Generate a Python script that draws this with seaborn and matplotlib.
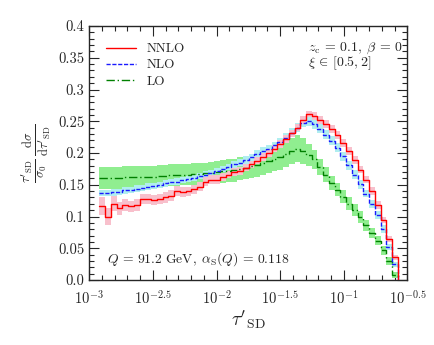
import numpy as np
import pandas as pd
import matplotlib
matplotlib.use("Agg")
import matplotlib.pyplot as plt
import seaborn as sns
from matplotlib.ticker import MultipleLocator

# bins in log10(tau'_SD)
log_tau_edges = np.linspace(-2.92, -0.575, 53)

nnlo = [0.116, 0.100, 0.120, 0.113, 0.118, 0.116, 0.118, 0.128, 0.127, 0.126,
        0.127, 0.130, 0.133, 0.140, 0.138, 0.140, 0.143, 0.147, 0.155, 0.158,
        0.158, 0.162, 0.166, 0.170, 0.172, 0.177, 0.182, 0.188, 0.194, 0.200,
        0.207, 0.214, 0.222, 0.231, 0.240, 0.252, 0.261, 0.258, 0.252, 0.246,
        0.238, 0.228, 0.216, 0.203, 0.189, 0.174, 0.158, 0.140, 0.118, 0.094,
        0.065, 0.036]
nnlo_err = [0.014, 0.014, 0.012, 0.010, 0.010, 0.009, 0.009, 0.008, 0.008, 0.008,
            0.008, 0.008, 0.008, 0.008, 0.008, 0.007, 0.007, 0.007, 0.007, 0.007,
            0.007, 0.006, 0.006, 0.006, 0.006, 0.006, 0.006, 0.006, 0.006, 0.006,
            0.006, 0.006, 0.006, 0.006, 0.006, 0.006, 0.005, 0.006, 0.006, 0.006,
            0.006, 0.006, 0.006, 0.006, 0.006, 0.006, 0.006, 0.006, 0.006, 0.005,
            0.005, 0.004]

nlo = [0.137, 0.137, 0.138, 0.139, 0.141, 0.142, 0.144, 0.145, 0.147, 0.148,
       0.150, 0.152, 0.154, 0.155, 0.157, 0.159, 0.161, 0.164, 0.166, 0.169,
       0.172, 0.175, 0.178, 0.182, 0.185, 0.189, 0.193, 0.198, 0.203, 0.207,
       0.212, 0.218, 0.224, 0.232, 0.240, 0.248, 0.250, 0.245, 0.238, 0.229,
       0.219, 0.208, 0.195, 0.181, 0.166, 0.151, 0.136, 0.120, 0.102, 0.080,
       0.052, 0.025]
nlo_err = [0.005, 0.005, 0.005, 0.005, 0.005, 0.005, 0.005, 0.005, 0.005, 0.005,
           0.005, 0.005, 0.005, 0.005, 0.005, 0.005, 0.005, 0.005, 0.005, 0.005,
           0.005, 0.005, 0.005, 0.005, 0.005, 0.006, 0.006, 0.006, 0.006, 0.006,
           0.006, 0.006, 0.007, 0.007, 0.007, 0.007, 0.007, 0.007, 0.007, 0.007,
           0.007, 0.007, 0.007, 0.007, 0.007, 0.007, 0.006, 0.006, 0.006, 0.006,
           0.005, 0.004]

lo = [0.161, 0.161, 0.161, 0.161, 0.162, 0.162, 0.162, 0.163, 0.163, 0.163,
      0.164, 0.164, 0.165, 0.165, 0.166, 0.166, 0.167, 0.167, 0.168, 0.169,
      0.170, 0.171, 0.172, 0.173, 0.175, 0.177, 0.179, 0.181, 0.184, 0.187,
      0.190, 0.194, 0.198, 0.203, 0.207, 0.203, 0.197, 0.190, 0.178, 0.166,
      0.153, 0.142, 0.131, 0.120, 0.110, 0.099, 0.086, 0.074, 0.062, 0.047,
      0.030, 0.008]
lo_err = [0.017, 0.017, 0.017, 0.017, 0.017, 0.017, 0.017, 0.017, 0.017, 0.017,
          0.017, 0.017, 0.017, 0.017, 0.017, 0.017, 0.017, 0.017, 0.017, 0.017,
          0.017, 0.018, 0.018, 0.018, 0.018, 0.018, 0.018, 0.018, 0.018, 0.019,
          0.019, 0.020, 0.020, 0.021, 0.021, 0.020, 0.017, 0.015, 0.013, 0.012,
          0.011, 0.010, 0.010, 0.010, 0.009, 0.009, 0.009, 0.008, 0.007, 0.007,
          0.006, 0.005]

x_ticks = [-3, -2.5, -2, -1.5, -1, -0.5]
x_ticklabels = [r"$10^{-3}$", r"$10^{-2.5}$", r"$10^{-2}$", r"$10^{-1.5}$",
                r"$10^{-1}$", r"$10^{-0.5}$"]
y_ticks = [0.0, 0.05, 0.1, 0.15, 0.2, 0.25, 0.3, 0.35, 0.4]
y_ticklabels = ["0.0", "0.05", "0.1", "0.15", "0.2", "0.25", "0.3", "0.35", "0.4"]

sns.set_style("ticks")
plt.rcParams["font.family"] = "serif"
plt.rcParams["font.serif"] = ["cmr10", "DejaVu Serif"]
plt.rcParams["mathtext.fontset"] = "cm"
plt.rcParams["axes.unicode_minus"] = False

fig = plt.figure(figsize=(4.34, 3.45), dpi=100)
ax = fig.add_axes([0.2058, 0.1884, 0.7327, 0.7362])

series = [
    ("LO", lo, lo_err, "#008000", (0, (6, 2, 1, 2)), "#90ee90"),
    ("NLO", nlo, nlo_err, "#1a1aff", (0, (3, 1.2)), "#b0eef0"),
    ("NNLO", nnlo, nnlo_err, "#ff0000", "-", "#f8c0cc"),
]

# uncertainty bands first
for name, vals, err, lc, ls, bc in series:
    v = np.array(vals + [vals[-1]])
    e = np.array(err + [err[-1]])
    ax.fill_between(log_tau_edges, v - e, v + e, step="post",
                    color=bc, linewidth=0, zorder=1)

for name, vals, err, lc, ls, bc in series:
    df = pd.DataFrame({"x": log_tau_edges, "y": vals + [0.0]})
    sns.lineplot(data=df, x="x", y="y", ax=ax, drawstyle="steps-post",
                 color=lc, linewidth=1.0, sort=False, estimator=None,
                 linestyle=ls, label=name, zorder=3)

h, l = ax.get_legend_handles_labels()
order = [l.index("NNLO"), l.index("NLO"), l.index("LO")]
ax.legend([h[i] for i in order], [l[i] for i in order], loc="upper left",
          frameon=False, fontsize=9.5, handlelength=2.3, handletextpad=0.8,
          labelspacing=0.3, borderaxespad=0.6, bbox_to_anchor=(0.01, 0.985))

ax.set_xlim(-3, -0.5)
ax.set_ylim(0, 0.4)
ax.set_xticks(x_ticks)
ax.set_xticklabels(x_ticklabels, fontsize=10.5)
ax.set_yticks(y_ticks)
ax.set_yticklabels(y_ticklabels, fontsize=10.5)
ax.xaxis.set_minor_locator(MultipleLocator(0.1))
ax.yaxis.set_minor_locator(MultipleLocator(0.01))
ax.tick_params(which="both", direction="in", top=True, right=True, width=0.8)
ax.tick_params(which="major", length=7)
ax.tick_params(which="minor", length=3.5)
ax.tick_params(axis="x", pad=6)
for s in ax.spines.values():
    s.set_linewidth(1.0)

ax.set_xlabel(r"$\tau'_{\rm SD}$", fontsize=14, labelpad=2)
ax.set_ylabel(r"$\frac{\tau'_{\rm SD}}{\sigma_0}\,\frac{{\rm d}\sigma}{{\rm d}\tau'_{\rm SD}}$",
              fontsize=13, labelpad=4)

ax.text(0.688, 0.913, r"$z_{\rm c}\,=\,0.1,\; \beta\,=\,0$", transform=ax.transAxes,
        fontsize=10, va="center", ha="left")
ax.text(0.688, 0.853, r"$\xi\, \in\, [0.5, 2]$", transform=ax.transAxes,
        fontsize=10, va="center", ha="left")
ax.text(0.055, 0.082, r"$Q\,=\,91.2\ \mathrm{GeV},\; \alpha_{\rm S}(Q)\,=\,0.118$",
        transform=ax.transAxes, fontsize=9.8, va="center", ha="left")

fig.savefig("out.png", dpi=100)
